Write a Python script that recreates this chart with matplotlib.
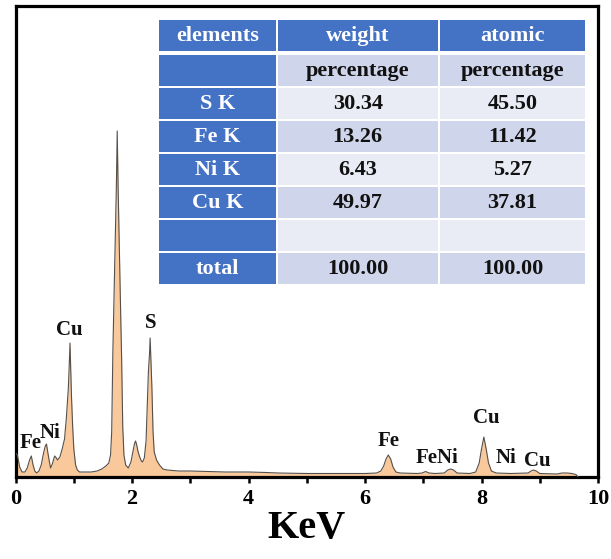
import matplotlib
matplotlib.use("Agg")
import matplotlib.pyplot as plt
from matplotlib.patches import Rectangle
from matplotlib.ticker import MultipleLocator

plt.rcParams["font.family"] = ["Liberation Serif", "DejaVu Serif"]
plt.rcParams["font.weight"] = "bold"

# EDS spectrum (energy in keV, counts in arbitrary units)
energy = [0.00, 0.03, 0.07, 0.11, 0.16, 0.20, 0.24, 0.27, 0.30, 0.33, 0.36, 0.40,
          0.44, 0.48, 0.51, 0.53, 0.56, 0.60, 0.63, 0.67, 0.70, 0.72, 0.76, 0.80,
          0.84, 0.87, 0.89, 0.905, 0.92, 0.934, 0.945, 0.96, 0.98, 1.00, 1.03, 1.06,
          1.10, 1.20, 1.30, 1.40, 1.48, 1.55, 1.60, 1.63, 1.65, 1.67, 1.69, 1.71,
          1.73, 1.745, 1.76, 1.78, 1.80, 1.82, 1.84, 1.86, 1.89, 1.935, 1.98, 2.01,
          2.04, 2.06, 2.08, 2.10, 2.13, 2.16, 2.18, 2.21, 2.24, 2.26, 2.28, 2.30,
          2.31, 2.32, 2.34, 2.36, 2.38, 2.42, 2.47, 2.53, 2.60, 2.80, 3.00, 3.30,
          3.60, 4.00, 4.30, 4.50, 5.00, 5.50, 6.00, 6.20, 6.27, 6.32, 6.36, 6.40,
          6.44, 6.48, 6.53, 6.60, 6.90, 6.98, 7.04, 7.10, 7.20, 7.36, 7.42, 7.47,
          7.52, 7.58, 7.80, 7.90, 7.96, 8.00, 8.04, 8.08, 8.12, 8.17, 8.25, 8.50,
          8.80, 8.85, 8.89, 8.94, 9.00, 9.30, 9.38, 9.47, 9.55, 9.62, 9.66]
counts = [24, 22, 10, 5, 5, 9, 17, 21, 12, 6, 4, 6,
          12, 24, 31, 33, 22, 9, 13, 21, 19, 17, 20, 28,
          38, 58, 75, 88, 110, 134, 110, 80, 50, 28, 12, 7,
          5, 5, 5, 6, 8, 11, 14, 22, 45, 125, 180, 235,
          290, 346, 290, 230, 175, 120, 50, 22, 12, 9, 15, 24,
          33, 36, 32, 26, 20, 16, 15, 19, 36, 70, 105, 124,
          139, 122, 90, 45, 25, 17, 12, 8, 7, 6, 6, 5.5,
          5, 5, 4.5, 4, 3.5, 3.5, 3.5, 4, 6, 11, 18, 22,
          18, 10, 5, 4, 3.5, 4, 5.5, 4, 3.5, 4, 7, 8,
          7, 4, 3.5, 5, 14, 28, 40, 28, 14, 6, 4, 3.5,
          4, 6, 7, 6, 3.5, 3, 4, 4, 3.5, 2.5, 0]

# Peak labels and their energies / heights on the spectrum
peak_names = ["Fe", "Ni", "Cu", "S", "Fe", "FeNi", "Cu", "Ni", "Cu"]
peak_label_x = [0.25, 0.59, 0.93, 2.325, 6.41, 7.24, 8.08, 8.42, 8.95]
peak_label_y = [34, 44, 147, 154, 36, 19, 59, 19, 16]

# Composition table
col_headers = ["elements", "weight", "atomic"]
sub_headers = ["", "percentage", "percentage"]
elements = ["S K", "Fe K", "Ni K", "Cu K", "", "total"]
weight_pct = ["30.34", "13.26", "6.43", "49.97", "", "100.00"]
atomic_pct = ["45.50", "11.42", "5.27", "37.81", "", "100.00"]

W, H = 611, 559
fig = plt.figure(figsize=(W / 100, H / 100), dpi=100)
ax = fig.add_axes([15.6 / W, (H - 477) / H, (598 - 15.6) / W, (477 - 6) / H])

ax.fill_between(energy, counts, 0, color="#F9C99B", lw=0, zorder=2)
ax.plot(energy, counts, color="#55504c", lw=0.8, zorder=3)

for name, x, y in zip(peak_names, peak_label_x, peak_label_y):
    ax.text(x, y, name, ha="center", va="center", fontsize=15,
            fontweight="bold", color="#111111", zorder=4)

ax.set_xlim(0, 10)
ax.set_ylim(0, 471)
ax.xaxis.set_major_locator(MultipleLocator(2))
ax.xaxis.set_minor_locator(MultipleLocator(1))
ax.tick_params(axis="x", which="both", direction="out", length=4.5, width=1.8,
               labelsize=16, pad=4)
ax.tick_params(axis="y", left=False, labelleft=False)
for lab in ax.get_xticklabels():
    lab.set_fontweight("bold")
for sp in ax.spines.values():
    sp.set_linewidth(2.3)
ax.set_xlabel("KeV", fontsize=29, fontweight="bold", labelpad=1)

# Overlay in pixel coordinates for the table
ov = fig.add_axes([0, 0, 1, 1], zorder=5)
ov.set_xlim(0, W)
ov.set_ylim(H, 0)
ov.axis("off")

BLUE = "#4472C4"
DARK = "#CFD5EA"
LIGHT = "#E9EBF5"
col_edges = [(159, 275.5), (278, 437.5), (440, 585)]

rows = [col_headers, sub_headers] + [
    [e, w, a] for e, w, a in zip(elements, weight_pct, atomic_pct)]
row_spans = [(20, 51)]
top = 55
for i in range(len(rows) - 1):
    row_spans.append((top + 33 * i, top + 33 * i + 30.5))

for r, (cells, (y0, y1)) in enumerate(zip(rows, row_spans)):
    band = DARK if r % 2 == 1 else LIGHT
    for c, (text, (x0, x1)) in enumerate(zip(cells, col_edges)):
        blue = r == 0 or c == 0
        ov.add_patch(Rectangle((x0, y0), x1 - x0, y1 - y0,
                               facecolor=BLUE if blue else band, edgecolor="none"))
        if text:
            ov.text((x0 + x1) / 2, (y0 + y1) / 2 + 0.5, text, ha="center",
                    va="center", fontsize=16, fontweight="bold",
                    color="white" if blue else "#111111")

fig.savefig("out.png", dpi=100)
